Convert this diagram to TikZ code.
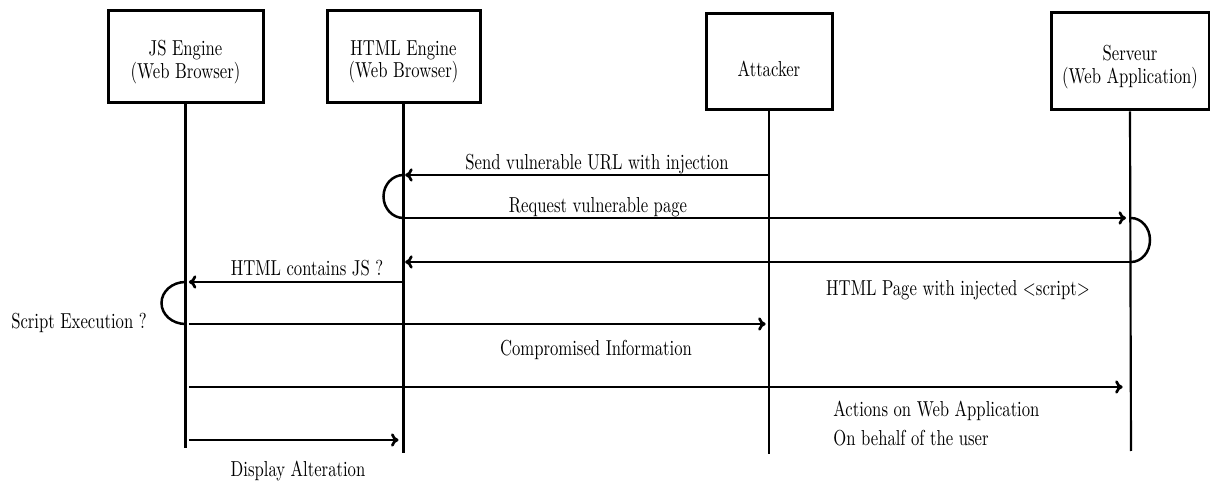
\documentclass[tikz,border=0pt]{standalone}
\usepackage{graphicx}
\usetikzlibrary{arrows.meta}
% text in this chart is set slightly taller than normal
\newcommand\tallt[1]{\scalebox{1}[1.3]{#1}}
\begin{document}
\begin{tikzpicture}[x=0.6pt,y=-0.6pt,
  actorbox/.style={draw,line width=1.8pt,inner sep=0pt},
  actortext/.style={align=center,font=\fontsize{10}{13.5}\selectfont},
  lifeline/.style={line width=1.3pt},
  msg/.style={line width=1.6pt,-{To[length=4.5pt,width=8pt]}},
  selfloop/.style={line width=1.5pt},
  msglabel/.style={font=\fontsize{10}{12}\selectfont,inner sep=0pt}
]
% canvas
\fill[white] (0,0) rectangle (1210,482);
\useasboundingbox (0,0) rectangle (1210,482);

% participants
\node[actorbox,minimum width=93pt,minimum height=55.2pt] (js) at (185.5,56.5) {};
\node[actorbox,minimum width=91.8pt,minimum height=55.2pt] (html) at (403.5,56.5) {};
\node[actorbox,minimum width=75.6pt,minimum height=57.6pt] (att) at (769,62) {};
\node[actorbox,minimum width=94.8pt,minimum height=58.2pt] (srv) at (1130,61.5) {};

\node[actortext] (jst) at (185.5,62) {\tallt{JS Engine}\\\tallt{(Web Browser)}};
\node[actortext] (htmlt) at (403.5,62) {\tallt{HTML Engine}\\\tallt{(Web Browser)}};
\node[actortext] (attt) at (769,68.5) {\tallt{Attacker}};
\node[actortext] (srvt) at (1130,67) {\tallt{Serveur}\\\tallt{(Web Application)}};

% lifeline ends
\coordinate (jsE) at (185.5,448);
\coordinate (htmlE) at (403.5,453);
\coordinate (attE) at (769,454);
\coordinate (srvE) at (1131,451);

\draw[lifeline] (js.south) -- (jsE);
\draw[lifeline] (html.south) -- (htmlE);
\draw[lifeline] (att.south) -- (attE);
\draw[lifeline] (srv.south) -- (srvE);

% message anchor points on the lifelines
\coordinate (a1) at (769,175);   \coordinate (h1) at (403.5,175);
\coordinate (h2) at (403.5,218); \coordinate (s2) at (1131,218);
\coordinate (s3) at (1131,262);  \coordinate (h3) at (403.5,262);
\coordinate (h4) at (403.5,282); \coordinate (j4) at (185.5,282);
\coordinate (j5) at (185.5,324); \coordinate (a5) at (769,324);
\coordinate (j6) at (185.5,387); \coordinate (s6) at (1131,387);
\coordinate (j7) at (185.5,440); \coordinate (h7) at (403.5,440);

% messages
\draw[msg,shorten >=1pt] (a1) -- (h1);
\draw[selfloop] (h1) arc[start angle=270,end angle=90,x radius=20,y radius=21.5];
\draw[msg,shorten >=3pt] (h2) -- (s2);
\draw[selfloop] (s2) arc[start angle=270,end angle=450,x radius=19,y radius=22];
\draw[msg,shorten >=1pt] (s3) -- (h3);
\draw[msg,shorten >=2pt] (h4) -- (j4);
\draw[selfloop] (j4) arc[start angle=270,end angle=90,x radius=24,y radius=21];
\draw[msg,shorten <=2pt,shorten >=2pt] (j5) -- (a5);
\draw[msg,shorten <=2pt,shorten >=5pt] (j6) -- (s6);
\draw[msg,shorten <=2pt,shorten >=3pt] (j7) -- (h7);

% labels
\node[msglabel] (l1) at (597,164) {\tallt{Send vulnerable URL with injection}};
\node[msglabel] (l2) at (598,207) {\tallt{Request vulnerable page}};
\node[msglabel] (l3) at (958,290) {\tallt{HTML Page with injected $<$script$>$}};
\node[msglabel] (l4) at (307,268) {\tallt{HTML contains JS ?}};
\node[msglabel] (l5) at (79,323) {\tallt{Script Execution ?}};
\node[msglabel] (l6) at (596,350) {\tallt{Compromised Information}};
\node[msglabel,anchor=west] (l7) at (833,411) {\tallt{Actions on Web Application}};
\node[msglabel,anchor=west] (l8) at (833,438) {\tallt{On behalf of the user}};
\node[msglabel] (l9) at (298,471) {\tallt{Display Alteration}};
\end{tikzpicture}
\end{document}
